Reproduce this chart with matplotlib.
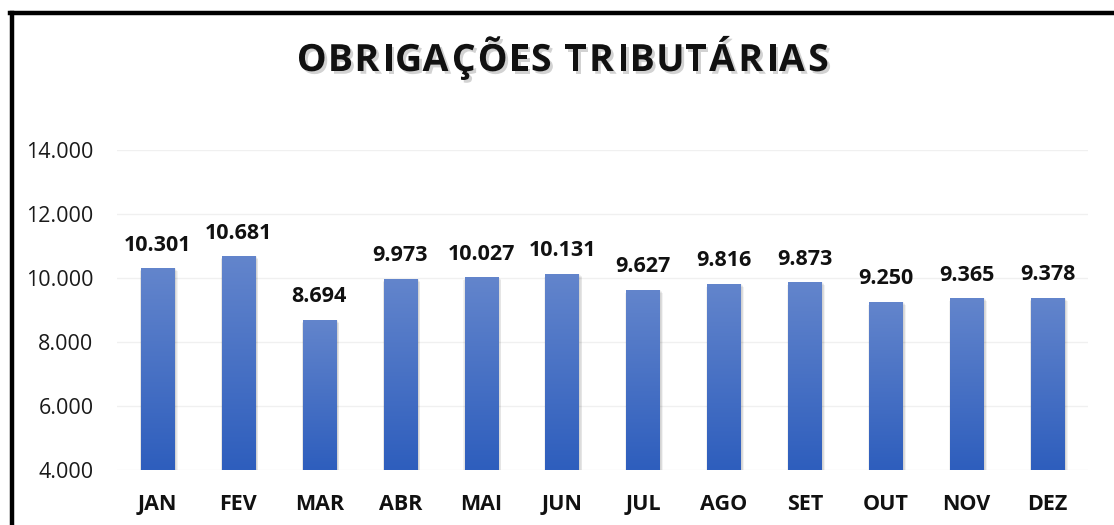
import matplotlib
matplotlib.use("Agg")
import matplotlib.pyplot as plt
import matplotlib.patheffects as pe
from matplotlib.lines import Line2D
from matplotlib.font_manager import FontProperties
from matplotlib.textpath import TextPath
from matplotlib.colors import LinearSegmentedColormap
import numpy as np

months = ["JAN", "FEV", "MAR", "ABR", "MAI", "JUN", "JUL", "AGO", "SET", "OUT", "NOV", "DEZ"]
values = [10301, 10681, 8694, 9973, 10027, 10131, 9627, 9816, 9873, 9250, 9365, 9378]
yticks = [4000, 6000, 8000, 10000, 12000, 14000]
title = "OBRIGAÇÕES TRIBUTÁRIAS"

def fmt(v):
    return f"{v:,}".replace(",", ".")

plt.rcParams['font.family'] = ['Open Sans', 'DejaVu Sans']

fig = plt.figure(figsize=(11.14, 5.25), dpi=100)
W, H = 1114, 525
ax = fig.add_axes([117 / W, (525 - 470) / H, (1088 - 117) / W, (470 - 150) / H])

x = np.arange(len(months))
bw = 0.41
ax.set_xlim(-0.5, len(months) - 0.5)
ax.set_ylim(4000, 14000)

grad = np.linspace(0, 1, 256).reshape(-1, 1)
cmap = LinearSegmentedColormap.from_list("g", ["#2E5EBD", "#6385CC"])

for xi, v in zip(x, values):
    for k, a in enumerate([0.04, 0.04, 0.05, 0.05]):
        d = 0.014 * (k + 1)
        sh = plt.Rectangle((xi - bw / 2 - d / 2 + 0.015, 4000), bw + d, v - 4000 - 30 * k, color="black",
                           alpha=a, lw=0, zorder=2)
        ax.add_patch(sh)
    r = plt.Rectangle((xi - bw / 2, 4000), bw, v - 4000, facecolor="none", lw=0, zorder=3)
    ax.add_patch(r)
    im = ax.imshow(grad, cmap=cmap, aspect="auto", origin="lower",
                   extent=[xi - bw / 2, xi + bw / 2, 4000, v], zorder=3)
    im.set_clip_path(r)
    ax.annotate(fmt(v), (xi, v), xytext=(0, 9), textcoords="offset points",
                ha="center", va="bottom", fontsize=15.5, fontweight="bold", color="#111111")

ax.set_xlim(-0.5, len(months) - 0.5)
ax.set_ylim(4000, 14000)
ax.set_yticks(yticks)
ax.set_yticklabels([fmt(t) for t in yticks], fontsize=15.5, color="#1a1a1a")
ax.set_xticks(x)
ax.set_xticklabels(months, fontsize=15.5, fontweight="bold", color="#111111")
ax.tick_params(axis="both", length=0)
ax.tick_params(axis="y", pad=17)
ax.tick_params(axis="x", pad=17)
for s in ax.spines.values():
    s.set_visible(False)
ax.grid(axis="y", color="#F0F0F0", lw=1)
ax.set_axisbelow(True)

# title with letter spacing
tsize = 27
fp = FontProperties(family="Open Sans", weight="bold", size=tsize)
px_per_pt = 100 / 72
adv = []
for c in title:
    if c == " ":
        adv.append(0.26 * tsize * px_per_pt)
    else:
        tp = TextPath((0, 0), c, prop=fp)
        adv.append(tp.get_extents().x1 * px_per_pt + 0.05 * tsize * px_per_pt)
track = 1.5
total = sum(adv) + track * (len(title) - 1)
start = 563 - total / 2
cx = start
shadow = [pe.SimplePatchShadow(offset=(2, -2), shadow_rgbFace="#808080", alpha=0.35), pe.Normal()]
for c, a in zip(title, adv):
    if c != " ":
        fig.text(cx / W, 1 - 61 / H, c, ha="left", va="center", fontproperties=fp,
                 color="#111111", path_effects=shadow)
    cx += a + track

fig.add_artist(Line2D([11.5 / W, 11.5 / W], [0, 1 - 12.5 / H], color="black", lw=3.2, transform=fig.transFigure))
fig.add_artist(Line2D([10 / W, 1], [1 - 12.5 / H, 1 - 12.5 / H], color="black", lw=3.2, transform=fig.transFigure))

fig.savefig("out.png", dpi=100)
